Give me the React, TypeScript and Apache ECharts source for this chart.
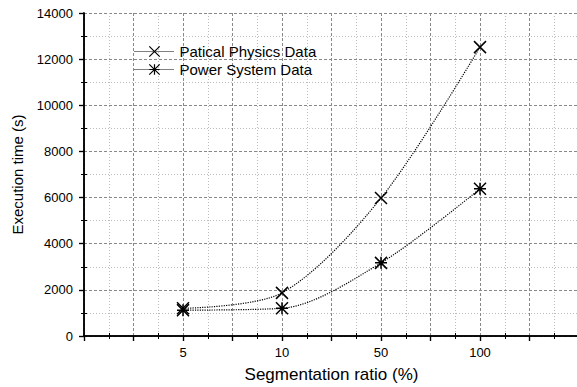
import React, { useEffect, useRef } from "react";
import * as echarts from "echarts";

const categories = ["5", "10", "50", "100"];
const particlePhysics = [1200, 1870, 5980, 12520];
const powerSystem = [1120, 1200, 3170, 6380];
const yTicks = [0, 2000, 4000, 6000, 8000, 10000, 12000, 14000];

const FONT = "Liberation Sans, Arial, sans-serif";
const CROSS = "path://M0,0L10,10M10,0L0,10";
const STAR = "path://M0,0L10,10M10,0L0,10M0,5L10,5M5,0L5,10";

export default function App() {
  const ref = useRef<HTMLDivElement>(null);
  useEffect(() => {
    if (!ref.current) return;
    const chart = echarts.init(ref.current, undefined, { renderer: "svg" });
    const pos = (i: number) => 2 * (i + 1);
    const labelMap: Record<number, string> = {};
    categories.forEach((c, i) => (labelMap[pos(i)] = c));
    const mk = (vals: number[]) => vals.map((v, i) => [pos(i), v]);
    const baseSeries = {
      type: "line" as const,
      smooth: 0.3,
      symbolSize: 12,
      showSymbol: true,
      lineStyle: { type: "dotted" as const, width: 1.2, color: "#000" },
      itemStyle: { color: "#000", borderColor: "#000", borderWidth: 1.5 },
      xAxisIndex: 0,
      yAxisIndex: 0,
    };
    const yMin = yTicks[0];
    const yMax = yTicks[yTicks.length - 1];
    const yInt = yTicks[1] - yTicks[0];
    const minorOnlyX = (position: string) => ({
      type: "value",
      position,
      min: 0,
      max: 10,
      interval: 1,
      axisLine: { show: false },
      axisTick: { show: false, inside: true },
      minorTick: { show: true, splitNumber: 2, length: 3, lineStyle: { color: "#000" } },
      axisLabel: { show: false },
      splitLine: { show: false },
      minorSplitLine: { show: false },
    });
    const minorOnlyY = (position: string) => ({
      type: "value",
      position,
      min: yMin,
      max: yMax,
      interval: yInt,
      axisLine: { show: false },
      axisTick: { show: false, inside: true },
      minorTick: { show: true, splitNumber: 2, length: 3, lineStyle: { color: "#000" } },
      axisLabel: { show: false },
      splitLine: { show: false },
      minorSplitLine: { show: false },
    });
    chart.setOption({
      animation: false,
      backgroundColor: "#fff",
      grid: { left: 84, right: -2, top: 13, bottom: 51, containLabel: false, outerBoundsMode: "none" },
      legend: {
        left: 129,
        top: 38,
        orient: "vertical",
        itemWidth: 40,
        itemHeight: 13,
        itemGap: 1,
        itemStyle: { borderWidth: 1.2 },
        lineStyle: { width: 1, color: "#000", type: "dotted" },
        textStyle: { fontFamily: FONT, fontSize: 15, color: "#000", lineHeight: 17 },
        data: ["Patical Physics Data", "Power System Data"],
      },
      xAxis: [
        {
          type: "value",
          min: 0,
          max: 10,
          interval: 1,
          name: "Segmentation ratio (%)",
          nameLocation: "middle",
          nameGap: 30,
          nameTextStyle: { fontFamily: FONT, fontSize: 17, color: "#000" },
          axisLine: { lineStyle: { color: "#000", width: 1.5 } },
          axisTick: { inside: false, length: 5, lineStyle: { color: "#000", width: 1.2 } },
          minorTick: { show: false, splitNumber: 2 },
          axisLabel: {
            fontFamily: FONT,
            fontSize: 13,
            color: "#000",
            margin: 10,
            formatter: (v: number) => labelMap[v] ?? "",
          },
          splitLine: { show: true, lineStyle: { type: [3, 2], color: "#888", width: 1 } },
          minorSplitLine: { show: true, lineStyle: { type: [1, 2], color: "#bbb", width: 1 } },
        },
        {
          type: "value",
          position: "top",
          min: 0,
          max: 10,
          interval: 1,
          axisLine: { lineStyle: { color: "#000", width: 1.5 } },
          axisTick: { inside: true, length: 5, lineStyle: { color: "#000", width: 1.2 } },
          minorTick: { show: true, splitNumber: 2, length: 3, lineStyle: { color: "#000" } },
          axisLabel: { show: false },
          splitLine: { show: false },
        },
        minorOnlyX("bottom"),
      ],
      yAxis: [
        {
          type: "value",
          min: yMin,
          max: yMax,
          interval: yInt,
          name: "Execution time (s)",
          nameLocation: "middle",
          nameGap: 59,
          nameTextStyle: { fontFamily: FONT, fontSize: 15, color: "#000" },
          axisLine: { show: true, lineStyle: { color: "#000", width: 1.5 } },
          axisTick: { show: true, inside: false, length: 5, lineStyle: { color: "#000", width: 1.2 } },
          minorTick: { show: false, splitNumber: 2 },
          axisLabel: { fontFamily: FONT, fontSize: 13, color: "#000", margin: 11, formatter: (v: number) => String(v) },
          splitLine: { show: true, lineStyle: { type: [3, 2], color: "#888", width: 1 } },
          minorSplitLine: { show: true, lineStyle: { type: [1, 2], color: "#bbb", width: 1 } },
        },
        {
          type: "value",
          position: "right",
          min: yMin,
          max: yMax,
          interval: yInt,
          axisLine: { show: true, lineStyle: { color: "#000", width: 1.5 } },
          axisTick: { show: true, inside: true, length: 5, lineStyle: { color: "#000", width: 1.2 } },
          minorTick: { show: true, splitNumber: 2, length: 3, lineStyle: { color: "#000" } },
          axisLabel: { show: false },
          splitLine: { show: false },
        },
        minorOnlyY("left"),
      ],
      series: [
        { ...baseSeries, name: "Patical Physics Data", symbol: CROSS, data: mk(particlePhysics) },
        { ...baseSeries, name: "Power System Data", symbol: STAR, data: mk(powerSystem) },
      ],
    });
    return () => chart.dispose();
  }, []);
  return <div ref={ref} style={{ width: 577, height: 387, position: "absolute", left: 0, top: 0 }} />;
}
